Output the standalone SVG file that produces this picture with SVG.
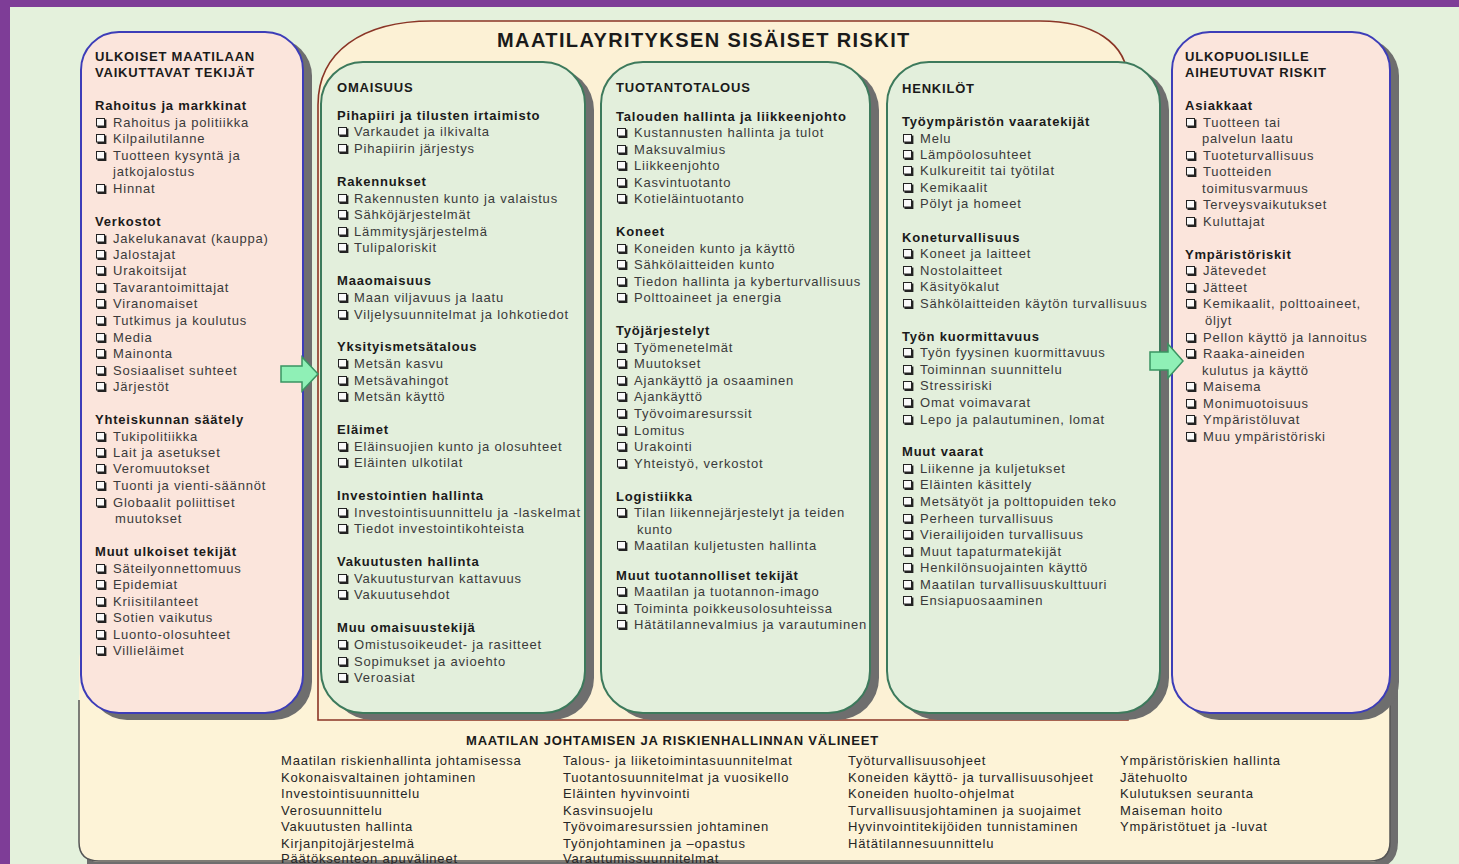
<svg xmlns="http://www.w3.org/2000/svg" xmlns:xlink="http://www.w3.org/1999/xlink" width="1459" height="864" viewBox="0 0 1459 864">
<style>
.h{font-family:"Liberation Sans",Arial,sans-serif;font-size:13px;font-weight:bold;fill:#1a1a1a;letter-spacing:0.8px}
.t{font-family:"Liberation Sans",Arial,sans-serif;font-size:13px;fill:#3a3a3a;letter-spacing:0.8px}
.b{font-family:"Liberation Sans",Arial,sans-serif;font-size:13px;fill:#262626;letter-spacing:0.8px}
.title{font-family:"Liberation Sans",Arial,sans-serif;font-size:20px;font-weight:bold;fill:#1a1a1a;letter-spacing:1.4px}
.shadow{fill:#6e6e6e}
.pink{fill:#fbe5dc;stroke:#3d3db8;stroke-width:2}
.green{fill:#e3efdc;stroke:#3d7a5c;stroke-width:2}
.arrow{fill:#8ff0b6;stroke:#3a9462;stroke-width:1.5}
</style>
<defs>
<g id="cb"><rect x="0.5" y="0.5" width="8" height="7.5" fill="#fafafa" stroke="#222" stroke-width="1"/><path d="M1.5 9 H9.5 V1.5" fill="none" stroke="#222" stroke-width="1.8"/></g>
</defs>
<rect x="0" y="0" width="1459" height="864" fill="#7e3d97"/>
<rect x="10" y="7" width="1449" height="857" fill="#e4f1dc"/>

<g id="bottom-panel">
<path class="shadow" d="M87 640 H1398 V842 Q1398 868 1372 868 H87 Z"/>
<rect x="79" y="640" width="1311" height="222" rx="20" fill="#fdf3d7"/>
<path d="M79 700 V842 Q79 861 99 861 H1370 Q1390 861 1390 842 V700" fill="none" stroke="#555" stroke-width="1.5"/>
</g>

<g id="arch">
<path d="M318 720 V105 C318 52 362 21 432 21 H1040 C1092 21 1128 42 1128 82 V720 Z" fill="#fcf1d5" stroke="#8a3526" stroke-width="1.6"/>
</g>

<g id="ulkoiset">
<rect class="shadow" x="89" y="38" width="223" height="682" rx="38"/>
<rect class="pink" x="81" y="32" width="222" height="681" rx="38"/>
</g>
<g id="omaisuus">
<rect class="shadow" x="330" y="68" width="264" height="652" rx="42"/>
<rect class="green" x="321" y="62" width="264" height="651" rx="42"/>
</g>
<g id="tuotantotalous">
<rect class="shadow" x="610" y="68" width="269" height="652" rx="42"/>
<rect class="green" x="601" y="62" width="269" height="651" rx="42"/>
</g>
<g id="henkilot">
<rect class="shadow" x="896" y="68" width="273" height="652" rx="42"/>
<rect class="green" x="887" y="62" width="273" height="651" rx="42"/>
</g>
<g id="ulkopuolisille">
<rect class="shadow" x="1181" y="38" width="218" height="682" rx="38"/>
<rect class="pink" x="1172" y="32" width="218" height="681" rx="38"/>
</g>

<g id="connectors">
<polygon class="arrow" points="281,366 302,366 302,357 318,374 302,391 302,382 281,382"/>
<polygon class="arrow" points="1150,352 1168,352 1168,344 1183,361 1168,378 1168,370 1150,370"/>
</g>

<text class="title" x="497" y="47">MAATILAYRITYKSEN SISÄISET RISKIT</text>

<g id="ulkoiset-text">
<text class="h" x="95" y="61">ULKOISET MAATILAAN</text>
<text class="h" x="95" y="77">VAIKUTTAVAT TEKIJÄT</text>
<text class="h" x="95" y="110">Rahoitus ja markkinat</text>
<use xlink:href="#cb" x="96" y="118"/><text class="t" x="113" y="127">Rahoitus ja politiikka</text>
<use xlink:href="#cb" x="96" y="134"/><text class="t" x="113" y="143">Kilpailutilanne</text>
<use xlink:href="#cb" x="96" y="151"/><text class="t" x="113" y="160">Tuotteen kysyntä ja</text>
<text class="t" x="113" y="176">jatkojalostus</text>
<use xlink:href="#cb" x="96" y="184"/><text class="t" x="113" y="193">Hinnat</text>
<text class="h" x="95" y="226">Verkostot</text>
<use xlink:href="#cb" x="96" y="234"/><text class="t" x="113" y="243">Jakelukanavat (kauppa)</text>
<use xlink:href="#cb" x="96" y="250"/><text class="t" x="113" y="259">Jalostajat</text>
<use xlink:href="#cb" x="96" y="266"/><text class="t" x="113" y="275">Urakoitsijat</text>
<use xlink:href="#cb" x="96" y="283"/><text class="t" x="113" y="292">Tavarantoimittajat</text>
<use xlink:href="#cb" x="96" y="299"/><text class="t" x="113" y="308">Viranomaiset</text>
<use xlink:href="#cb" x="96" y="316"/><text class="t" x="113" y="325">Tutkimus ja koulutus</text>
<use xlink:href="#cb" x="96" y="333"/><text class="t" x="113" y="342">Media</text>
<use xlink:href="#cb" x="96" y="349"/><text class="t" x="113" y="358">Mainonta</text>
<use xlink:href="#cb" x="96" y="366"/><text class="t" x="113" y="375">Sosiaaliset suhteet</text>
<use xlink:href="#cb" x="96" y="382"/><text class="t" x="113" y="391">Järjestöt</text>
<text class="h" x="95" y="424">Yhteiskunnan säätely</text>
<use xlink:href="#cb" x="96" y="432"/><text class="t" x="113" y="441">Tukipolitiikka</text>
<use xlink:href="#cb" x="96" y="448"/><text class="t" x="113" y="457">Lait ja asetukset</text>
<use xlink:href="#cb" x="96" y="464"/><text class="t" x="113" y="473">Veromuutokset</text>
<use xlink:href="#cb" x="96" y="481"/><text class="t" x="113" y="490">Tuonti ja vienti-säännöt</text>
<use xlink:href="#cb" x="96" y="498"/><text class="t" x="113" y="507">Globaalit poliittiset</text>
<text class="t" x="115" y="523">muutokset</text>
<text class="h" x="95" y="556">Muut ulkoiset tekijät</text>
<use xlink:href="#cb" x="96" y="564"/><text class="t" x="113" y="573">Säteilyonnettomuus</text>
<use xlink:href="#cb" x="96" y="580"/><text class="t" x="113" y="589">Epidemiat</text>
<use xlink:href="#cb" x="96" y="597"/><text class="t" x="113" y="606">Kriisitilanteet</text>
<use xlink:href="#cb" x="96" y="613"/><text class="t" x="113" y="622">Sotien vaikutus</text>
<use xlink:href="#cb" x="96" y="630"/><text class="t" x="113" y="639">Luonto-olosuhteet</text>
<use xlink:href="#cb" x="96" y="646"/><text class="t" x="113" y="655">Villieläimet</text>
</g>

<g id="omaisuus-text">
<text class="h" x="337" y="92">OMAISUUS</text>
<text class="h" x="337" y="120">Pihapiiri ja tilusten irtaimisto</text>
<use xlink:href="#cb" x="338" y="127"/><text class="t" x="354" y="136">Varkaudet ja ilkivalta</text>
<use xlink:href="#cb" x="338" y="144"/><text class="t" x="354" y="153">Pihapiirin järjestys</text>
<text class="h" x="337" y="186">Rakennukset</text>
<use xlink:href="#cb" x="338" y="194"/><text class="t" x="354" y="203">Rakennusten kunto ja valaistus</text>
<use xlink:href="#cb" x="338" y="210"/><text class="t" x="354" y="219">Sähköjärjestelmät</text>
<use xlink:href="#cb" x="338" y="227"/><text class="t" x="354" y="236">Lämmitysjärjestelmä</text>
<use xlink:href="#cb" x="338" y="243"/><text class="t" x="354" y="252">Tulipaloriskit</text>
<text class="h" x="337" y="285">Maaomaisuus</text>
<use xlink:href="#cb" x="338" y="293"/><text class="t" x="354" y="302">Maan viljavuus ja laatu</text>
<use xlink:href="#cb" x="338" y="310"/><text class="t" x="354" y="319">Viljelysuunnitelmat ja lohkotiedot</text>
<text class="h" x="337" y="351">Yksityismetsätalous</text>
<use xlink:href="#cb" x="338" y="359"/><text class="t" x="354" y="368">Metsän kasvu</text>
<use xlink:href="#cb" x="338" y="376"/><text class="t" x="354" y="385">Metsävahingot</text>
<use xlink:href="#cb" x="338" y="392"/><text class="t" x="354" y="401">Metsän käyttö</text>
<text class="h" x="337" y="434">Eläimet</text>
<use xlink:href="#cb" x="338" y="442"/><text class="t" x="354" y="451">Eläinsuojien kunto ja olosuhteet</text>
<use xlink:href="#cb" x="338" y="458"/><text class="t" x="354" y="467">Eläinten ulkotilat</text>
<text class="h" x="337" y="500">Investointien hallinta</text>
<use xlink:href="#cb" x="338" y="508"/><text class="t" x="354" y="517">Investointisuunnittelu ja -laskelmat</text>
<use xlink:href="#cb" x="338" y="524"/><text class="t" x="354" y="533">Tiedot investointikohteista</text>
<text class="h" x="337" y="566">Vakuutusten hallinta</text>
<use xlink:href="#cb" x="338" y="574"/><text class="t" x="354" y="583">Vakuutusturvan kattavuus</text>
<use xlink:href="#cb" x="338" y="590"/><text class="t" x="354" y="599">Vakuutusehdot</text>
<text class="h" x="337" y="632">Muu omaisuustekijä</text>
<use xlink:href="#cb" x="338" y="640"/><text class="t" x="354" y="649">Omistusoikeudet- ja rasitteet</text>
<use xlink:href="#cb" x="338" y="657"/><text class="t" x="354" y="666">Sopimukset ja avioehto</text>
<use xlink:href="#cb" x="338" y="673"/><text class="t" x="354" y="682">Veroasiat</text>
</g>

<g id="tuotantotalous-text">
<text class="h" x="616" y="92">TUOTANTOTALOUS</text>
<text class="h" x="616" y="121">Talouden hallinta ja liikkeenjohto</text>
<use xlink:href="#cb" x="617" y="128"/><text class="t" x="634" y="137">Kustannusten hallinta ja tulot</text>
<use xlink:href="#cb" x="617" y="145"/><text class="t" x="634" y="154">Maksuvalmius</text>
<use xlink:href="#cb" x="617" y="161"/><text class="t" x="634" y="170">Liikkeenjohto</text>
<use xlink:href="#cb" x="617" y="178"/><text class="t" x="634" y="187">Kasvintuotanto</text>
<use xlink:href="#cb" x="617" y="194"/><text class="t" x="634" y="203">Kotieläintuotanto</text>
<text class="h" x="616" y="236">Koneet</text>
<use xlink:href="#cb" x="617" y="244"/><text class="t" x="634" y="253">Koneiden kunto ja käyttö</text>
<use xlink:href="#cb" x="617" y="260"/><text class="t" x="634" y="269">Sähkölaitteiden kunto</text>
<use xlink:href="#cb" x="617" y="277"/><text class="t" x="634" y="286">Tiedon hallinta ja kyberturvallisuus</text>
<use xlink:href="#cb" x="617" y="293"/><text class="t" x="634" y="302">Polttoaineet ja energia</text>
<text class="h" x="616" y="335">Työjärjestelyt</text>
<use xlink:href="#cb" x="617" y="343"/><text class="t" x="634" y="352">Työmenetelmät</text>
<use xlink:href="#cb" x="617" y="359"/><text class="t" x="634" y="368">Muutokset</text>
<use xlink:href="#cb" x="617" y="376"/><text class="t" x="634" y="385">Ajankäyttö ja osaaminen</text>
<use xlink:href="#cb" x="617" y="392"/><text class="t" x="634" y="401">Ajankäyttö</text>
<use xlink:href="#cb" x="617" y="409"/><text class="t" x="634" y="418">Työvoimaresurssit</text>
<use xlink:href="#cb" x="617" y="426"/><text class="t" x="634" y="435">Lomitus</text>
<use xlink:href="#cb" x="617" y="442"/><text class="t" x="634" y="451">Urakointi</text>
<use xlink:href="#cb" x="617" y="459"/><text class="t" x="634" y="468">Yhteistyö, verkostot</text>
<text class="h" x="616" y="501">Logistiikka</text>
<use xlink:href="#cb" x="617" y="508"/><text class="t" x="634" y="517">Tilan liikennejärjestelyt ja teiden</text>
<text class="t" x="637" y="534">kunto</text>
<use xlink:href="#cb" x="617" y="541"/><text class="t" x="634" y="550">Maatilan kuljetusten hallinta</text>
<text class="h" x="616" y="580">Muut tuotannolliset tekijät</text>
<use xlink:href="#cb" x="617" y="587"/><text class="t" x="634" y="596">Maatilan ja tuotannon-imago</text>
<use xlink:href="#cb" x="617" y="604"/><text class="t" x="634" y="613">Toiminta poikkeusolosuhteissa</text>
<use xlink:href="#cb" x="617" y="620"/><text class="t" x="634" y="629">Hätätilannevalmius ja varautuminen</text>
</g>

<g id="henkilot-text">
<text class="h" x="902" y="93">HENKILÖT</text>
<text class="h" x="902" y="126">Työympäristön vaaratekijät</text>
<use xlink:href="#cb" x="903" y="134"/><text class="t" x="920" y="143">Melu</text>
<use xlink:href="#cb" x="903" y="150"/><text class="t" x="920" y="159">Lämpöolosuhteet</text>
<use xlink:href="#cb" x="903" y="166"/><text class="t" x="920" y="175">Kulkureitit tai työtilat</text>
<use xlink:href="#cb" x="903" y="183"/><text class="t" x="920" y="192">Kemikaalit</text>
<use xlink:href="#cb" x="903" y="199"/><text class="t" x="920" y="208">Pölyt ja homeet</text>
<text class="h" x="902" y="242">Koneturvallisuus</text>
<use xlink:href="#cb" x="903" y="249"/><text class="t" x="920" y="258">Koneet ja laitteet</text>
<use xlink:href="#cb" x="903" y="266"/><text class="t" x="920" y="275">Nostolaitteet</text>
<use xlink:href="#cb" x="903" y="282"/><text class="t" x="920" y="291">Käsityökalut</text>
<use xlink:href="#cb" x="903" y="299"/><text class="t" x="920" y="308">Sähkölaitteiden käytön turvallisuus</text>
<text class="h" x="902" y="341">Työn kuormittavuus</text>
<use xlink:href="#cb" x="903" y="348"/><text class="t" x="920" y="357">Työn fyysinen kuormittavuus</text>
<use xlink:href="#cb" x="903" y="365"/><text class="t" x="920" y="374">Toiminnan suunnittelu</text>
<use xlink:href="#cb" x="903" y="381"/><text class="t" x="920" y="390">Stressiriski</text>
<use xlink:href="#cb" x="903" y="398"/><text class="t" x="920" y="407">Omat voimavarat</text>
<use xlink:href="#cb" x="903" y="415"/><text class="t" x="920" y="424">Lepo ja palautuminen, lomat</text>
<text class="h" x="902" y="456">Muut vaarat</text>
<use xlink:href="#cb" x="903" y="464"/><text class="t" x="920" y="473">Liikenne ja kuljetukset</text>
<use xlink:href="#cb" x="903" y="480"/><text class="t" x="920" y="489">Eläinten käsittely</text>
<use xlink:href="#cb" x="903" y="497"/><text class="t" x="920" y="506">Metsätyöt ja polttopuiden teko</text>
<use xlink:href="#cb" x="903" y="514"/><text class="t" x="920" y="523">Perheen turvallisuus</text>
<use xlink:href="#cb" x="903" y="530"/><text class="t" x="920" y="539">Vierailijoiden turvallisuus</text>
<use xlink:href="#cb" x="903" y="547"/><text class="t" x="920" y="556">Muut tapaturmatekijät</text>
<use xlink:href="#cb" x="903" y="563"/><text class="t" x="920" y="572">Henkilönsuojainten käyttö</text>
<use xlink:href="#cb" x="903" y="580"/><text class="t" x="920" y="589">Maatilan turvallisuuskulttuuri</text>
<use xlink:href="#cb" x="903" y="596"/><text class="t" x="920" y="605">Ensiapuosaaminen</text>
</g>

<g id="ulkopuolisille-text">
<text class="h" x="1185" y="61">ULKOPUOLISILLE</text>
<text class="h" x="1185" y="77">AIHEUTUVAT RISKIT</text>
<text class="h" x="1185" y="110">Asiakkaat</text>
<use xlink:href="#cb" x="1186" y="118"/><text class="t" x="1203" y="127">Tuotteen tai</text>
<text class="t" x="1202" y="143">palvelun laatu</text>
<use xlink:href="#cb" x="1186" y="151"/><text class="t" x="1203" y="160">Tuoteturvallisuus</text>
<use xlink:href="#cb" x="1186" y="167"/><text class="t" x="1203" y="176">Tuotteiden</text>
<text class="t" x="1202" y="193">toimitusvarmuus</text>
<use xlink:href="#cb" x="1186" y="200"/><text class="t" x="1203" y="209">Terveysvaikutukset</text>
<use xlink:href="#cb" x="1186" y="217"/><text class="t" x="1203" y="226">Kuluttajat</text>
<text class="h" x="1185" y="259">Ympäristöriskit</text>
<use xlink:href="#cb" x="1186" y="266"/><text class="t" x="1203" y="275">Jätevedet</text>
<use xlink:href="#cb" x="1186" y="283"/><text class="t" x="1203" y="292">Jätteet</text>
<use xlink:href="#cb" x="1186" y="299"/><text class="t" x="1203" y="308">Kemikaalit, polttoaineet,</text>
<text class="t" x="1205" y="325">öljyt</text>
<use xlink:href="#cb" x="1186" y="333"/><text class="t" x="1203" y="342">Pellon käyttö ja lannoitus</text>
<use xlink:href="#cb" x="1186" y="349"/><text class="t" x="1203" y="358">Raaka-aineiden</text>
<text class="t" x="1202" y="375">kulutus ja käyttö</text>
<use xlink:href="#cb" x="1186" y="382"/><text class="t" x="1203" y="391">Maisema</text>
<use xlink:href="#cb" x="1186" y="399"/><text class="t" x="1203" y="408">Monimuotoisuus</text>
<use xlink:href="#cb" x="1186" y="415"/><text class="t" x="1203" y="424">Ympäristöluvat</text>
<use xlink:href="#cb" x="1186" y="432"/><text class="t" x="1203" y="441">Muu ympäristöriski</text>
</g>

<g id="bottom-text">
<text class="h" x="466" y="745">MAATILAN JOHTAMISEN JA RISKIENHALLINNAN VÄLINEET</text>
<text class="b" x="281" y="765">Maatilan riskienhallinta johtamisessa</text>
<text class="b" x="281" y="782">Kokonaisvaltainen johtaminen</text>
<text class="b" x="281" y="798">Investointisuunnittelu</text>
<text class="b" x="281" y="815">Verosuunnittelu</text>
<text class="b" x="281" y="831">Vakuutusten hallinta</text>
<text class="b" x="281" y="848">Kirjanpitojärjestelmä</text>
<text class="b" x="281" y="863">Päätöksenteon apuvälineet</text>
<text class="b" x="563" y="765">Talous- ja liiketoimintasuunnitelmat</text>
<text class="b" x="563" y="782">Tuotantosuunnitelmat ja vuosikello</text>
<text class="b" x="563" y="798">Eläinten hyvinvointi</text>
<text class="b" x="563" y="815">Kasvinsuojelu</text>
<text class="b" x="563" y="831">Työvoimaresurssien johtaminen</text>
<text class="b" x="563" y="848">Työnjohtaminen ja –opastus</text>
<text class="b" x="563" y="863">Varautumissuunnitelmat</text>
<text class="b" x="848" y="765">Työturvallisuusohjeet</text>
<text class="b" x="848" y="782">Koneiden käyttö- ja turvallisuusohjeet</text>
<text class="b" x="848" y="798">Koneiden huolto-ohjelmat</text>
<text class="b" x="848" y="815">Turvallisuusjohtaminen ja suojaimet</text>
<text class="b" x="848" y="831">Hyvinvointitekijöiden tunnistaminen</text>
<text class="b" x="848" y="848">Hätätilannesuunnittelu</text>
<text class="b" x="1120" y="765">Ympäristöriskien hallinta</text>
<text class="b" x="1120" y="782">Jätehuolto</text>
<text class="b" x="1120" y="798">Kulutuksen seuranta</text>
<text class="b" x="1120" y="815">Maiseman hoito</text>
<text class="b" x="1120" y="831">Ympäristötuet ja -luvat</text>
</g>
</svg>
